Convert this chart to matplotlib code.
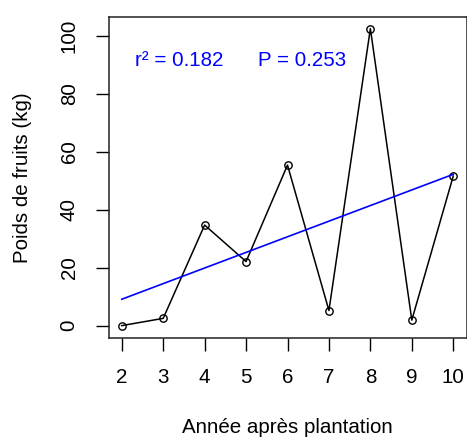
import numpy as np
import matplotlib
matplotlib.use("Agg")
import matplotlib.pyplot as plt

years = [2, 3, 4, 5, 6, 7, 8, 9, 10]
poids = [0.0, 2.5, 34.7, 22.1, 55.4, 5.2, 102.5, 1.9, 51.6]
x_ticks = [2, 3, 4, 5, 6, 7, 8, 9, 10]
y_ticks = [0, 20, 40, 60, 80, 100]
r2_text = "r² = 0.182"
p_text = "P = 0.253"

plt.rcParams['font.family'] = ['Liberation Sans', 'DejaVu Sans']
FS = 14.8

W, H = 467, 440
fig = plt.figure(figsize=(W / 100, H / 100), dpi=100)
L, R, T, B = 108.5, 466.5, 17, 337.5
ax = fig.add_axes([L / W, 1 - B / H, (R - L) / W, (B - T) / H])

ax.plot(years, poids, color='black', lw=1.1, marker='o', ms=5.3,
        mfc='none', mec='black', mew=1.0)

coef = np.polyfit(years, poids, 1)
xl = np.array([min(years), max(years)])
ax.plot(xl, np.polyval(coef, xl), color='#0000ff', lw=1.2)

ax.text(2.31, 91.6, r2_text, color='#0000ff', fontsize=FS, ha='left', va='center')
ax.text(5.28, 91.6, p_text, color='#0000ff', fontsize=FS, ha='left', va='center')

ax.set_xlim(1.68, 10.32)
ax.set_ylim(-4.1, 106.5)
ax.set_xticks(x_ticks)
ax.set_yticks(y_ticks)
ax.tick_params(direction='out', length=9.5, width=1.0, labelsize=FS,
               colors='black', pad=12)
ax.tick_params(axis='x', pad=12.5)
for lab in ax.get_yticklabels():
    lab.set_rotation(90)
    lab.set_va('center')
for s in ax.spines.values():
    s.set_linewidth(1.1)
    s.set_color('#222222')

ax.set_xlabel("Année après plantation", fontsize=FS)
ax.set_ylabel("Poids de fruits (kg)", fontsize=FS)
ax.xaxis.set_label_coords(0.5, -0.25)
ax.yaxis.set_label_coords(-0.215, 0.5)

fig.savefig("out.png", dpi=100)
